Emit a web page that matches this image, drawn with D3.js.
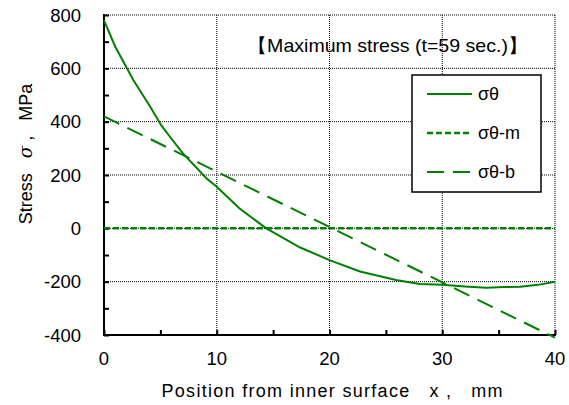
<!DOCTYPE html>
<html>
<head>
<meta charset="utf-8">
<script src="https://cdn.jsdelivr.net/npm/d3@7"></script>
<style>
  body { margin: 0; background: #fff; }
  text { font-family: "Liberation Sans", Arial, sans-serif; fill: #000; white-space: pre; }
</style>
</head>
<body>
<svg id="chart" width="569" height="405"></svg>
<script>
// values
var xTicks = [0, 10, 20, 30, 40];
var yTicks = [-400, -200, 0, 200, 400, 600, 800];

var sigmaX = [0, 1, 2.6, 4.1, 5.1, 6, 7, 9.1, 10, 12, 14.4, 17.4, 20, 22.7, 25.9, 28, 30, 32, 33.9, 35.5, 36.9, 38.5, 40];
var sigmaY = [780, 681, 556, 456, 385, 335, 281, 187, 156, 75, 0, -72, -119, -162, -194, -209, -212, -218, -223, -220, -219, -212, -200];

var memX = [0, 40];
var memY = [0, 0];

var bendX = [0, 40];
var bendY = [420, -410];

var legendNames = ['σθ', 'σθ-m', 'σθ-b'];

var svg = d3.select('#chart');
var pLeft = 104, pRight = 555, pTop = 15, pBottom = 335;

var x = d3.scaleLinear().domain([0, 40]).range([pLeft, pRight]);
var y = d3.scaleLinear().domain([-400, 800]).range([pBottom, pTop]);

// grid (dotted)
var grid = svg.append('g').attr('stroke', '#000').attr('stroke-width', 1).attr('stroke-dasharray', '1,1');
grid.selectAll('.gx').data(xTicks.filter(function(d) { return d > 0; })).enter().append('line')
  .attr('x1', function(d) { return x(d); }).attr('x2', function(d) { return x(d); })
  .attr('y1', pTop).attr('y2', pBottom);
grid.selectAll('.gy').data(yTicks.filter(function(d) { return d > -400; })).enter().append('line')
  .attr('x1', pLeft).attr('x2', pRight)
  .attr('y1', function(d) { return y(d); }).attr('y2', function(d) { return y(d); });

// axes with inward ticks
var yAxis = d3.axisRight(y).tickValues(d3.range(-400, 801, 100)).tickSize(5).tickFormat('');
var gy = svg.append('g').attr('transform', 'translate(' + pLeft + ',0)').call(yAxis);
var xAxis = d3.axisTop(x).tickValues(d3.range(0, 41, 5)).tickSize(5).tickFormat('');
var gx = svg.append('g').attr('transform', 'translate(0,' + pBottom + ')').call(xAxis);
[gx, gy].forEach(function(g) {
  g.selectAll('line').attr('stroke', '#000').attr('stroke-width', 2);
  g.select('.domain').attr('stroke', '#000').attr('stroke-width', 2);
});
gx.select('.domain').attr('d', 'M' + (pLeft - 1) + ',0H' + (pRight + 1));
gy.select('.domain').attr('d', 'M0,' + (pTop - 1) + 'V' + (pBottom + 1));

// tick labels
svg.selectAll('.yl').data(yTicks).enter().append('text')
  .attr('x', pLeft - 23).attr('y', function(d) { return y(d); }).attr('dy', '0.36em')
  .attr('text-anchor', 'end').attr('font-size', 18.5).text(function(d) { return d; });
svg.selectAll('.xl').data(xTicks).enter().append('text')
  .attr('x', function(d) { return x(d); }).attr('y', 365)
  .attr('text-anchor', 'middle').attr('font-size', 18.5).text(function(d) { return d; });

// axis titles
svg.append('text').attr('x', 332).attr('y', 397).attr('text-anchor', 'middle').attr('font-size', 18)
  .attr('textLength', 341).attr('lengthAdjust', 'spacing')
  .text('Position from inner surface   x ,   mm');
var yt = svg.append('text').attr('transform', 'translate(32,154) rotate(-90)').attr('text-anchor', 'middle').attr('font-size', 18);
yt.append('tspan').text('Stress   ');
yt.append('tspan').attr('font-style', 'italic').attr('font-family', 'DejaVu Serif, serif').text('σ');
yt.append('tspan').text(' ,   MPa');

// series
var line = d3.line().x(function(d) { return x(d[0]); }).y(function(d) { return y(d[1]); });
var green = '#008000';
var series = [
  {pts: d3.zip(sigmaX, sigmaY), dash: null, w: 2},
  {pts: d3.zip(memX, memY), dash: '6,3', w: 2.5},
  {pts: d3.zip(bendX, bendY), dash: '17,9', w: 2}
];
series.forEach(function(s) {
  svg.append('path').attr('d', line(s.pts)).attr('fill', 'none').attr('stroke', green)
    .attr('stroke-width', s.w).attr('stroke-dasharray', s.dash);
});

// title
svg.append('text').attr('x', 387.5).attr('y', 52).attr('text-anchor', 'middle').attr('font-size', 18.5)
  .attr('textLength', 281).attr('lengthAdjust', 'spacingAndGlyphs')
  .text('【Maximum stress (t=59 sec.)】');

// legend
var lg = svg.append('g');
lg.append('rect').attr('x', 412).attr('y', 75).attr('width', 129).attr('height', 117)
  .attr('fill', '#fff').attr('stroke', '#000').attr('stroke-width', 1.5);
legendNames.forEach(function(name, i) {
  var yy = 94 + i * 39;
  lg.append('line').attr('x1', 427).attr('x2', 472).attr('y1', yy).attr('y2', yy)
    .attr('stroke', green).attr('stroke-width', series[i].w).attr('stroke-dasharray', series[i].dash);
  lg.append('text').attr('x', 478).attr('y', yy).attr('dy', '0.36em').attr('font-size', 18).text(name);
});
</script>
</body>
</html>
